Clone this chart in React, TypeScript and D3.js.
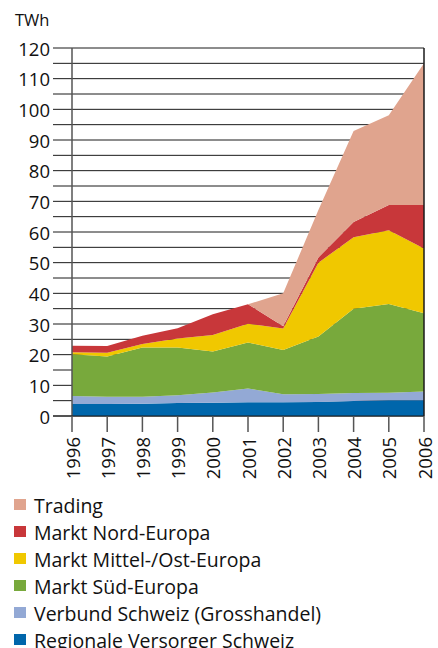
import React from 'react';
import * as d3 from 'd3';

const years = [1996, 1997, 1998, 1999, 2000, 2001, 2002, 2003, 2004, 2005, 2006];
const regionale = [3.9, 3.9, 4.0, 4.2, 4.3, 4.5, 4.5, 4.6, 4.9, 5.1, 5.1];
const verbund = [2.6, 2.4, 2.3, 2.6, 3.4, 4.5, 2.6, 2.6, 2.6, 2.5, 2.9];
const sued = [13.6, 13.1, 16.0, 15.5, 13.3, 15.0, 14.4, 18.7, 27.5, 28.9, 25.5];
const mittelOst = [0.7, 1.2, 1.2, 3.0, 5.4, 6.1, 7.0, 24.1, 23.3, 24.1, 21.1];
const nord = [2.1, 2.2, 2.7, 3.3, 6.8, 6.3, 0.8, 1.7, 5.0, 8.2, 14.2];
const trading = [0, 0, 0, 0, 0, 0, 10.7, 15.5, 29.6, 29.3, 46.2];

const seriesNames = [
  'Regionale Versorger Schweiz',
  'Verbund Schweiz (Grosshandel)',
  'Markt Süd-Europa',
  'Markt Mittel-/Ost-Europa',
  'Markt Nord-Europa',
  'Trading',
];
const seriesColors = ['#0066ab', '#93a9d5', '#78a93c', '#f0c800', '#c8373a', '#e0a48e'];
const yTicks = [0, 10, 20, 30, 40, 50, 60, 70, 80, 90, 100, 110, 120];

const font = '"Open Sans", sans-serif';

export default function App() {
  const values = [regionale, verbund, sued, mittelOst, nord, trading];
  const rows = years.map((yr, i) => {
    const r: any = { year: yr };
    seriesNames.forEach((n, k) => (r[n] = values[k][i]));
    return r;
  });
  const stacked = d3.stack().keys(seriesNames)(rows);

  const x = d3.scaleLinear().domain([1996, 2006]).range([72, 424]);
  const y = d3.scaleLinear().domain([0, 120]).range([416, 48]);

  const area = d3
    .area<any>()
    .x((d) => x(d.data.year))
    .y0((d) => y(d[0]))
    .y1((d) => y(d[1]));

  const grid = d3.range(0, 121, 5);
  const legend = seriesNames.map((n, i) => ({ n, c: seriesColors[i] })).reverse();

  return (
    <svg
      width={438}
      height={648}
      style={{ position: 'absolute', left: 0, top: 0, background: '#fff' }}
      fontFamily={font}
    >
      <text x={15} y={26} fontSize={16.5} fill="#111">TWh</text>
      {grid.map((g) => (
        <line key={g} x1={53} x2={424} y1={y(g)} y2={y(g)} stroke="#1a1a1a" strokeWidth={1} />
      ))}
      {yTicks.map((t) => (
        <text key={t} x={50} y={y(t)} textAnchor="end" dominantBaseline="central" fontSize={18.5} fill="#111">
          {t}
        </text>
      ))}
      {stacked.map((s, i) => (
        <path key={s.key} d={area(s as any) || ''} fill={seriesColors[i]} />
      ))}
      <line x1={72} x2={72} y1={48} y2={y(0)} stroke="#555" strokeWidth={1.5} />
      <line x1={424} x2={424} y1={48} y2={y(0)} stroke="#1a1a1a" strokeWidth={1.5} />
      <line x1={53} x2={424} y1={y(0)} y2={y(0)} stroke="#1a1a1a" strokeWidth={1} />
      {years.map((yr) => (
        <g key={yr}>
          <line x1={x(yr)} x2={x(yr)} y1={y(0)} y2={432} stroke="#555" strokeWidth={1.5} />
          <text
            transform={`translate(${x(yr)},437) rotate(-90)`}
            textAnchor="end"
            dominantBaseline="central"
            fontSize={18.5}
            fill="#111"
          >
            {yr}
          </text>
        </g>
      ))}
      {legend.map((l, i) => (
        <g key={l.n} transform={`translate(0,${505 + i * 27})`}>
          <rect x={14} y={-6} width={12} height={11} fill={l.c} />
          <text x={34} y={0} dominantBaseline="central" fontSize={19.5} fill="#111">
            {l.n}
          </text>
        </g>
      ))}
    </svg>
  );
}
